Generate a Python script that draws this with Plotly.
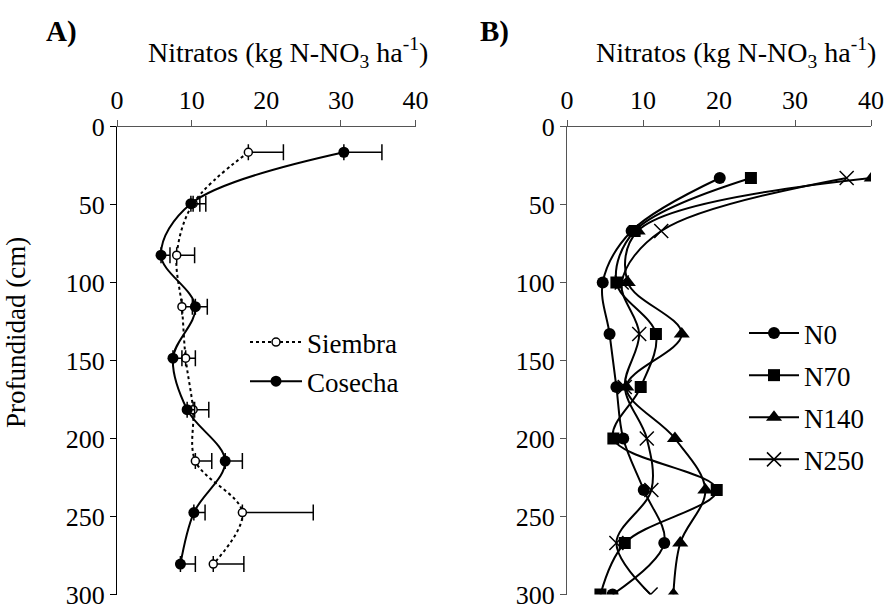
import plotly.graph_objects as go

# ---------------- data ----------------
depth_a = [16.5, 49.5, 82.5, 115.5, 148.5, 181.5, 214.5, 247.5, 280.5]
siembra = [17.6, 10.2, 8.0, 8.7, 9.2, 10.2, 10.5, 16.8, 12.9]
siembra_err = [4.7, 1.7, 2.4, 1.4, 1.3, 2.1, 2.2, 9.5, 4.1]
cosecha = [30.4, 9.9, 5.9, 10.5, 7.5, 9.4, 14.5, 10.3, 8.5]
cosecha_err = [5.1, 1.2, 1.2, 1.6, 1.2, 1.0, 2.3, 1.5, 2.0]

depth_b = [33, 67, 100, 133, 167, 200, 233, 267, 300]
n0 = [20.1, 8.5, 4.7, 5.6, 6.5, 7.4, 10.1, 12.8, 6.0]
n70 = [24.2, 8.9, 6.5, 11.7, 9.7, 6.1, 19.7, 7.6, 4.4]
n140 = [40.1, 9.3, 8.0, 15.1, 7.8, 14.2, 18.2, 14.9, 14.0]
n250 = [36.8, 12.4, 7.2, 9.5, 7.6, 10.5, 11.1, 6.5, 11.0]

x_ticks = [0, 10, 20, 30, 40]
y_ticks = [0, 50, 100, 150, 200, 250, 300]

FONT = "Liberation Serif"
W, H = 890, 610

fig = go.Figure()

# ---- Panel A ----
fig.add_trace(go.Scatter(
    x=siembra, y=depth_a, name="Siembra", mode="lines+markers",
    line=dict(color="black", width=2, dash="dot", shape="spline", smoothing=1),
    marker=dict(symbol="circle", size=8, color="white", line=dict(color="black", width=1.5)),
    error_x=dict(type="data", array=siembra_err, arrayminus=[0] * len(siembra_err),
                 symmetric=False, color="black", thickness=1.5, width=8),
    xaxis="x", yaxis="y", legend="legend", legendgroup="s"))
fig.add_trace(go.Scatter(
    x=cosecha, y=depth_a, name="Cosecha", mode="lines+markers",
    line=dict(color="black", width=2, shape="spline", smoothing=1),
    marker=dict(symbol="circle", size=11, color="black"),
    error_x=dict(type="data", array=cosecha_err, arrayminus=[0] * len(cosecha_err),
                 symmetric=False, color="black", thickness=1.5, width=8),
    xaxis="x", yaxis="y", legend="legend", legendgroup="c"))

# ---- Panel B ----
series_b = [("N0", n0, "circle", 12), ("N70", n70, "square", 12),
            ("N140", n140, "triangle-up", 14), ("N250", n250, "x-thin", 14)]
for name, vals, sym, sz in series_b:
    mk = dict(symbol=sym, size=sz, color="black")
    if sym == "x-thin":
        mk["line"] = dict(color="black", width=1.5)
    fig.add_trace(go.Scatter(
        x=vals, y=depth_b, name=name, mode="lines+markers",
        line=dict(color="black", width=2, shape="spline", smoothing=1),
        marker=mk, xaxis="x2", yaxis="y2", legend="legend2", legendgroup=name))

def px_x(p):
    return p / W

def px_y(p):
    return 1 - p / H

xdomA = [px_x(117), px_x(415.5)]
xdomB = [px_x(567), px_x(871)]
ydom = [px_y(594.5), px_y(126.5)]

axis_common = dict(showgrid=False, zeroline=False, showline=True, ticks="outside",
                   ticklen=6, tickwidth=1, automargin=False,
                   tickfont=dict(family=FONT, size=26, color="black"))

fig.update_layout(
    template="none",
    width=W, height=H, margin=dict(l=0, r=0, t=0, b=0, autoexpand=False),
    paper_bgcolor="white", plot_bgcolor="white",
    font=dict(family=FONT, color="black"),
    xaxis=dict(domain=xdomA, range=[0, 40], side="top", anchor="y", tickvals=x_ticks,
               linecolor="#555", tickcolor="#555", **axis_common),
    yaxis=dict(domain=ydom, range=[300, 0], anchor="x", tickvals=y_ticks,
               linecolor="black", tickcolor="black", **axis_common),
    xaxis2=dict(domain=xdomB, range=[0, 40], side="top", anchor="y2", tickvals=x_ticks,
                linecolor="#555", tickcolor="#555", **axis_common),
    yaxis2=dict(domain=ydom, range=[300, 0], anchor="x2", tickvals=y_ticks,
                linecolor="#555", tickcolor="#555", **axis_common),
    legend=dict(x=px_x(245), y=px_y(318), xanchor="left", yanchor="top",
                font=dict(family=FONT, size=27, color="black"), bgcolor="rgba(0,0,0,0)",
                tracegroupgap=1, itemwidth=52, borderwidth=0),
    legend2=dict(x=px_x(744), y=px_y(309), xanchor="left", yanchor="top",
                 font=dict(family=FONT, size=27, color="black"), bgcolor="rgba(0,0,0,0)",
                 tracegroupgap=4, itemwidth=50, borderwidth=0),
    showlegend=True,
)

title_txt = "Nitratos (kg N-NO<sub>3</sub> ha<sup>-1</sup>)"
ann_common = dict(xref="paper", yref="paper", showarrow=False, xanchor="center", yanchor="middle")
annotations = [
    dict(text="<b>A)</b>", x=px_x(62), y=px_y(31),
         font=dict(family=FONT, size=29, color="black"), **ann_common),
    dict(text="<b>B)</b>", x=px_x(494), y=px_y(31),
         font=dict(family=FONT, size=29, color="black"), **ann_common),
    dict(text=title_txt, x=px_x(288), y=px_y(52),
         font=dict(family=FONT, size=28, color="black"), **ann_common),
    dict(text=title_txt, x=px_x(736), y=px_y(52),
         font=dict(family=FONT, size=28, color="black"), **ann_common),
    dict(text="Profundidad (cm)", x=px_x(16), y=px_y(333), textangle=-90,
         font=dict(family=FONT, size=27, color="black"), **ann_common),
]
fig.update_layout(annotations=annotations)

fig.write_html("out.html")
